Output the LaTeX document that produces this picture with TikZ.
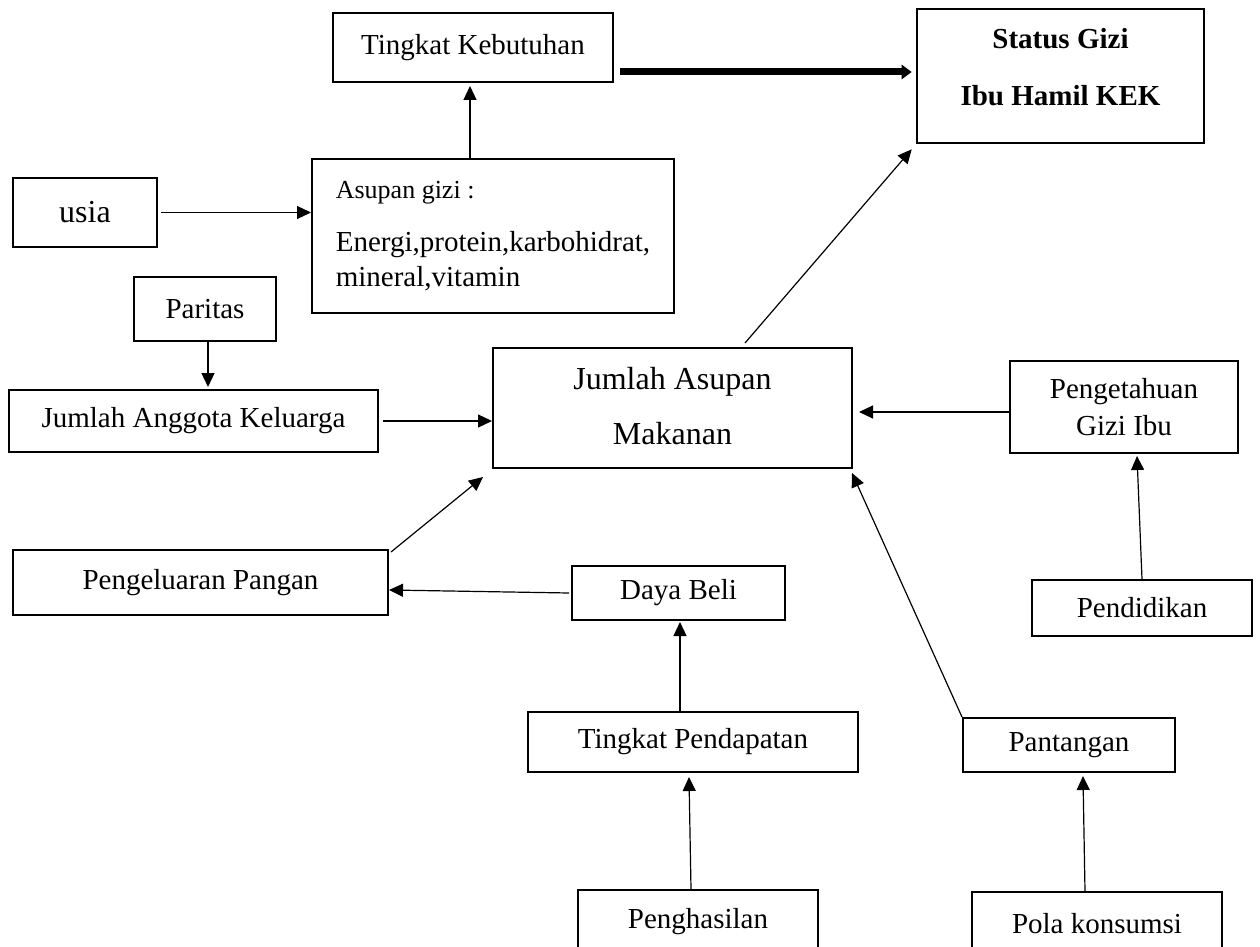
\documentclass[tikz,border=0pt]{standalone}
\usepackage{fontspec}
\setmainfont{Liberation Serif}
\usepackage{tikz}
\usetikzlibrary{positioning, arrows.meta}

\begin{document}
\begin{tikzpicture}[
        x=0.5pt, y=-0.5pt,
        font=\fontsize{14.5}{17.4}\selectfont,
        box/.style={rectangle, draw=black, line width=1pt, fill=white,
                inner sep=0pt, align=center},
        bigbox/.style={box, line width=1.3pt,
                font=\fontsize{14.5}{17.4}\selectfont\bfseries},
        largetext/.style={font=\fontsize{16}{19.2}\selectfont},
        arr/.style={-{Triangle[length=7pt, width=6.5pt]}, line width=0.6pt},
        thickarr/.style={-{Triangle[length=5pt, width=7pt]}, line width=3.5pt},
    ]

    \useasboundingbox (0,0) rectangle (1260,947);
    \clip (0,0) rectangle (1260,947);

    % top row
    \node[box, minimum width=140pt, minimum height=34.5pt] (tk) at (473, 47.5) {Tingkat Kebutuhan};
    \node[bigbox, minimum width=143.5pt, minimum height=67pt, text depth=9pt] (sg) at (1060.5, 76)
        {Status Gizi\\[11.5pt]Ibu Hamil KEK};

    \node[box, largetext, minimum width=72pt, minimum height=34.5pt] (usia) at (85, 212.5) {usia};
    \node[box, minimum width=181pt, minimum height=77pt, align=left] (ag) at (493, 236)
        {{\fontsize{13}{15.6}\selectfont Asupan gizi :}\\[9pt]
         Energi,protein,karbohidrat,\\
         mineral,vitamin};

    % middle
    \node[box, minimum width=71pt, minimum height=32pt] (par) at (205, 309) {Paritas};
    \node[box, minimum width=184.5pt, minimum height=31pt] (jak) at (193.5, 421) {Jumlah Anggota Keluarga};
    \node[box, largetext, minimum width=179.5pt, minimum height=60pt, text depth=2pt] (ja) at (672.5, 408)
        {Jumlah Asupan\\[8.3pt]Makanan};
    \node[box, minimum width=114pt, minimum height=46pt] (pgi) at (1124, 407)
        {Pengetahuan\\[1pt]Gizi Ibu};

    \node[box, minimum width=187.5pt, minimum height=32.5pt] (pp) at (200.5, 582.5) {Pengeluaran Pangan};
    \node[box, minimum width=106.5pt, minimum height=27pt] (db) at (678.5, 593) {Daya Beli};
    \node[box, minimum width=110pt, minimum height=28pt] (pend) at (1142, 608) {Pendidikan};

    % bottom
    \node[box, minimum width=165pt, minimum height=30pt] (tp) at (693, 742) {Tingkat Pendapatan};
    \node[box, minimum width=106pt, minimum height=27pt] (pan) at (1069, 745) {Pantangan};
    \node[box, minimum width=120pt, minimum height=32pt] (peng) at (698, 922) {Penghasilan};
    \node[box, minimum width=125pt, minimum height=32pt] (pk) at (1097, 924) {Pola konsumsi};

    % arrows
    \coordinate (tkout) at ([xshift=3pt, yshift=-12.25pt]tk.east);
    \draw[thickarr] (tkout) -- ([xshift=-2pt]tkout -| sg.west);

    \draw[arr] ([xshift=1.5pt]usia.east) -- (usia.east -| ag.west);
    \draw[arr] ([xshift=-1.5pt]tk.south |- ag.north) -- ([xshift=-1.5pt, yshift=-1.5pt]tk.south);
    \draw[arr] ([xshift=36.25pt, yshift=2pt]ja.north) -- ([xshift=-2pt, yshift=-2.5pt]sg.south west);

    \draw[arr] ([xshift=1.5pt]par.south) -- ([xshift=1.5pt, yshift=1pt]par.south |- jak.north);
    \draw[arr] ([xshift=2pt]jak.east) -- (jak.east -| ja.west);
    \draw[arr] ([yshift=-2.5pt]pgi.west) -- ([xshift=3pt, yshift=-2.5pt]pgi.west -| ja.east);
    \draw[arr] (pend.north) -- ([xshift=6.5pt, yshift=-1pt]pgi.south);

    \draw[arr] ([xshift=1pt, yshift=-1.5pt]pp.north east) -- ([xshift=-4.5pt, yshift=-4pt]ja.south west);
    \draw[arr] ([xshift=-1pt]db.west) -- ([yshift=-3.75pt]pp.east);
    \draw[arr] ([xshift=-6.5pt]tp.north) -- ([xshift=-6.5pt, yshift=-0.5pt]tp.north |- db.south);
    \draw[arr] ([xshift=-3.5pt]peng.north) -- ([xshift=-2pt, yshift=-2pt]tp.south);

    \draw[arr] (pan.north west) -- ([xshift=-0.5pt, yshift=-2pt]ja.south east);
    \draw[arr] ([xshift=-6pt]pk.north) -- ([xshift=7pt, yshift=-1.5pt]pan.south);
\end{tikzpicture}
\end{document}
